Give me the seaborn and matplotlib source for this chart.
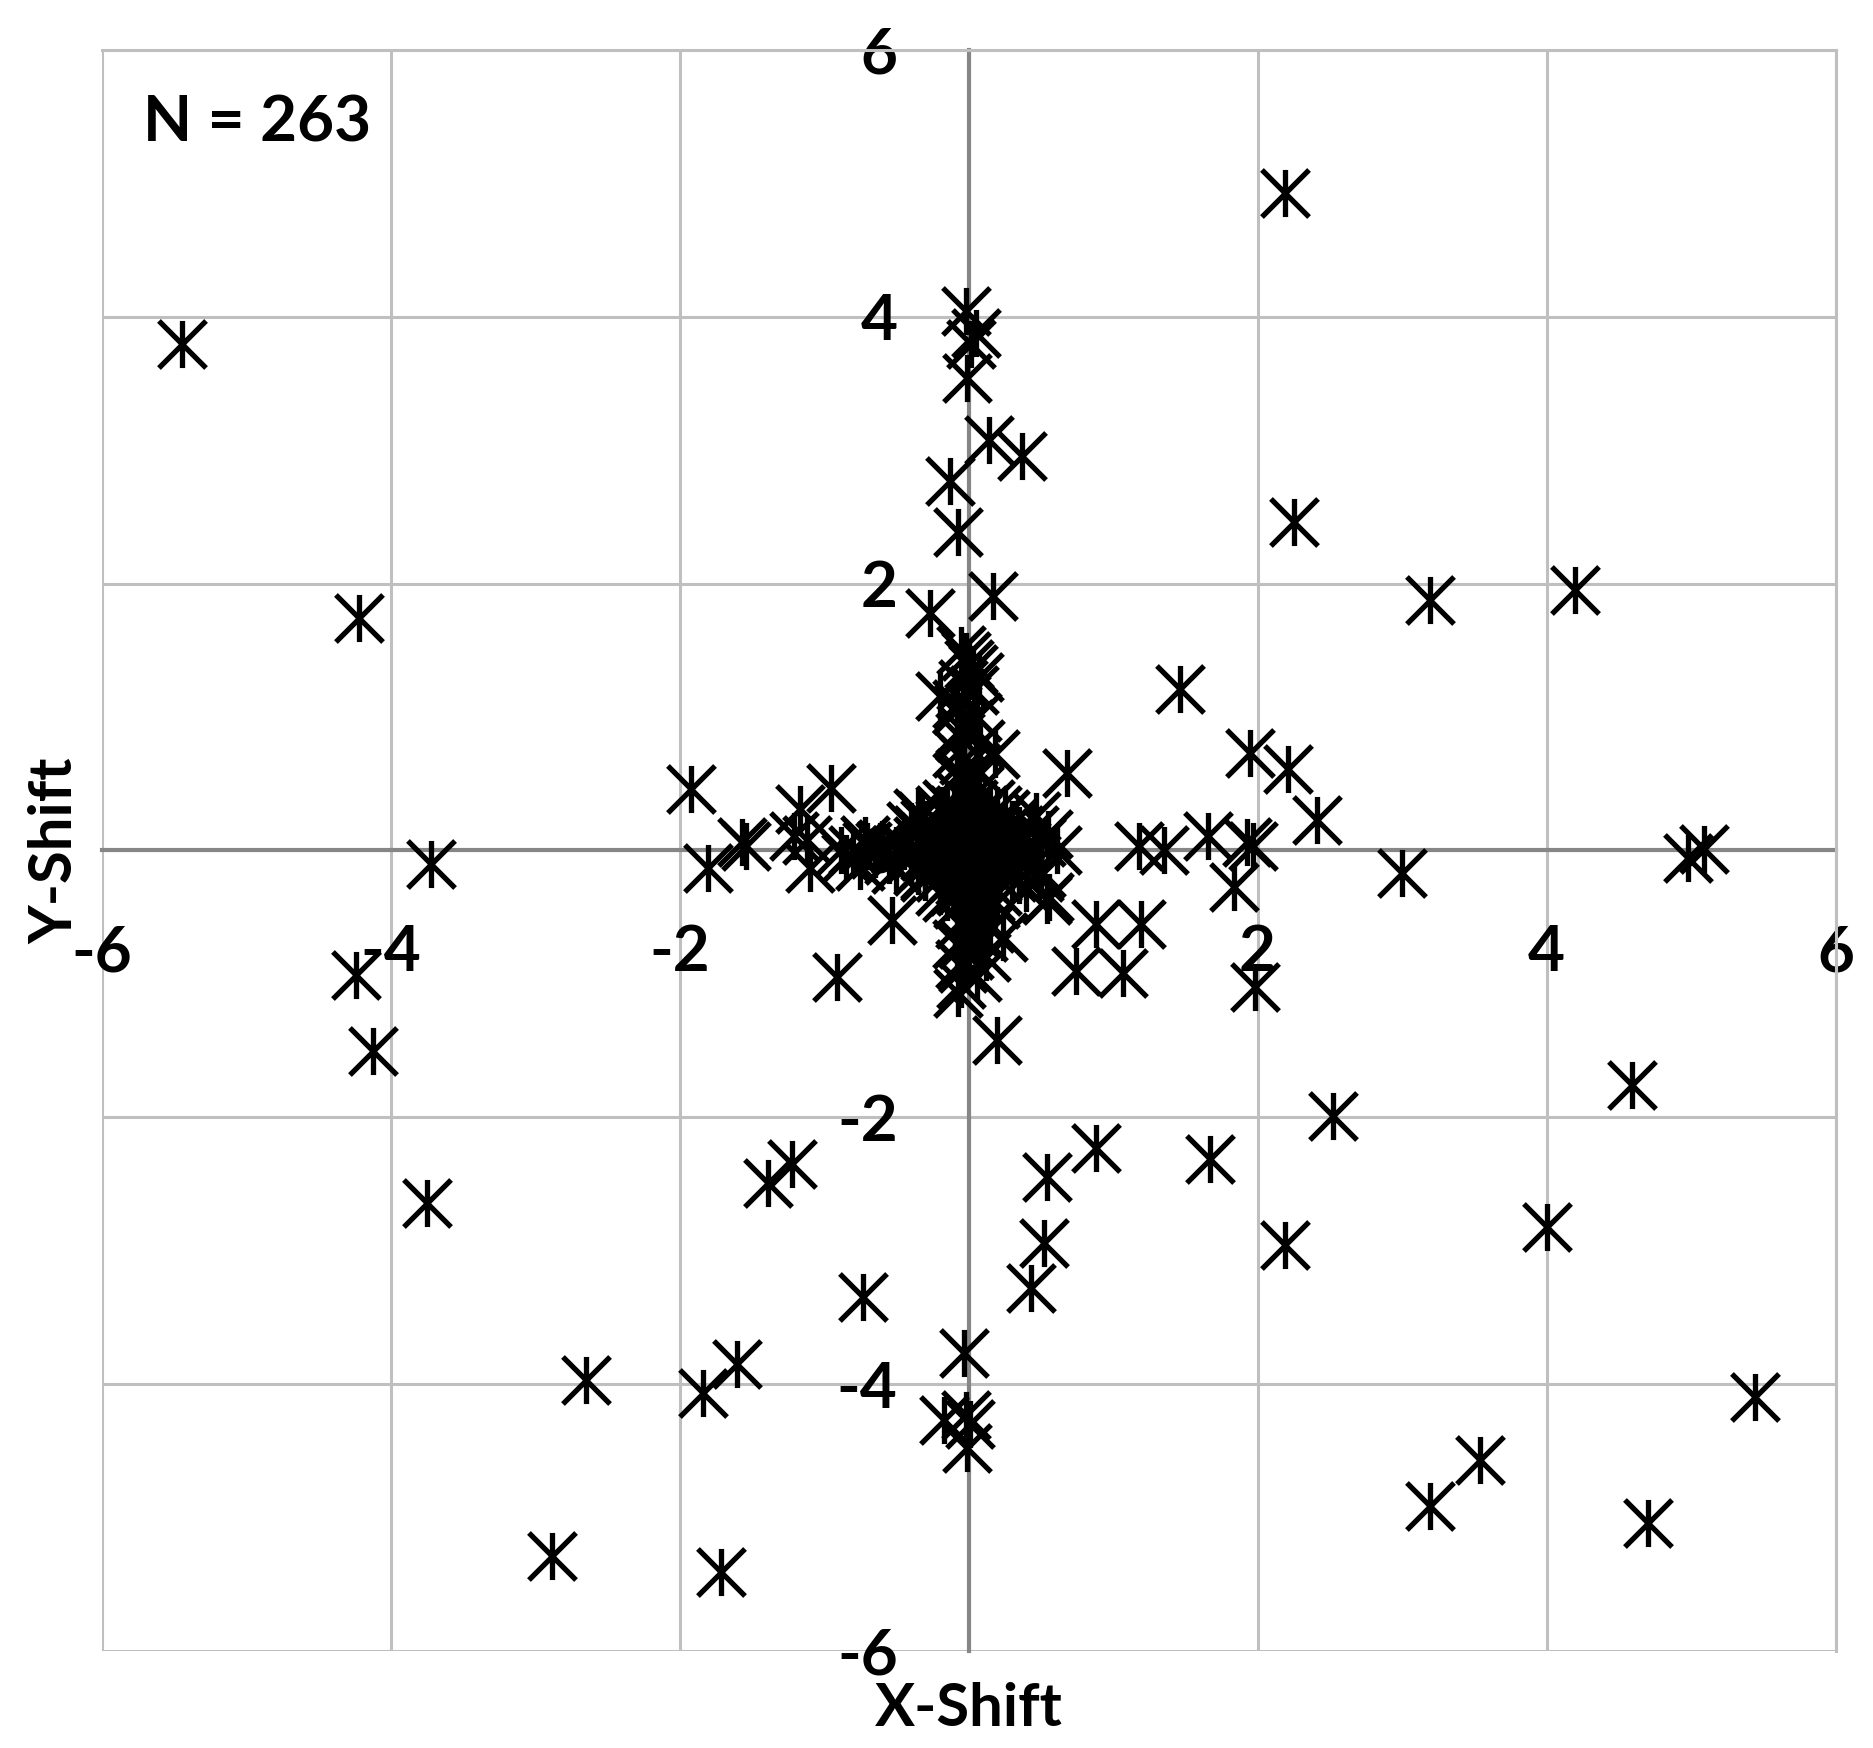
import matplotlib
matplotlib.use('Agg')
import matplotlib.pyplot as plt
from matplotlib.path import Path
import pandas as pd
import seaborn as sns


# shifts, grouped by where they sit
far_points = [
    (-5.44, 3.80), (2.19, 4.93), (-4.22, 1.74), (2.25, 2.46), (3.19, 1.88),
    (4.20, 1.95), (1.46, 1.21), (5.09, 0.01), (4.98, -0.06), (3.00, -0.17),
    (-3.72, -0.10), (-4.24, -0.93), (-4.12, -1.50), (-3.75, -2.64), (4.59, -1.76),
    (2.52, -1.99), (0.88, -2.23), (1.67, -2.31), (2.19, -2.96), (4.00, -2.82),
    (-1.22, -2.35), (-1.39, -2.49), (0.54, -2.45), (0.52, -2.94), (0.43, -3.28),
    (-0.73, -3.35), (-0.03, -3.77), (-2.65, -3.97), (-1.84, -4.07), (-1.60, -3.85),
    (-0.17, -4.27), (-0.02, -4.23), (0.01, -4.30), (-0.01, -4.48), (-2.88, -5.29),
    (-1.71, -5.41), (3.19, -4.91), (3.54, -4.57), (4.70, -5.04), (5.44, -4.10),
]

upper_points = [
    (-0.02, 4.04), (0.05, 3.88), (0.02, 3.80), (-0.01, 3.54), (0.14, 3.08),
    (0.37, 2.96), (-0.13, 2.77), (-0.07, 2.39), (0.17, 1.91), (-0.27, 1.78),
]

right_points = [
    (1.95, 0.73), (2.21, 0.61), (2.41, 0.23), (1.66, 0.11), (1.93, 0.06),
    (1.97, 0.03), (1.84, -0.27), (1.18, 0.03), (1.35, 0.00), (0.68, 0.58),
    (0.88, -0.55), (1.19, -0.55), (0.74, -0.90), (1.07, -0.92), (1.98, -1.02),
    (0.20, -1.42),
]

left_points = [
    (-1.92, 0.46), (-1.80, -0.13), (-1.57, 0.06), (-1.54, 0.03), (-1.17, 0.31),
    (-0.95, 0.47), (-1.21, 0.11), (-1.12, 0.08), (-1.10, -0.13), (-0.72, 0.08),
    (-0.75, -0.12), (-0.61, 0.03), (-0.88, 0.00), (-0.32, 0.26), (-0.53, -0.52),
    (-0.91, -0.95),
]

near_points = [
    (-0.02, 1.46), (0.03, 1.36), (-0.20, 1.16), (-0.08, 1.05), (-0.05, 0.91),
    (0.18, 0.72), (-0.08, 0.73), (-0.06, 0.58), (-0.07, -1.07), (0.56, -0.35),
    (0.49, -0.20), (0.61, 0.00), (0.45, 0.15), (-0.35, 0.28), (0.47, 0.26),
    (0.54, -0.37), (0.24, -0.65), (-0.04, -0.70), (-0.06, -0.85),
]

# dense cross in the middle
arm_points = [
    (0.00, 0.20), (0.05, 0.25), (-0.06, 0.30), (0.03, 0.35), (-0.05, 0.40),
    (0.07, 0.45), (0.00, 0.50), (-0.08, 0.55), (0.05, 0.62), (-0.03, 0.68),
    (0.08, 0.80), (-0.06, 0.85), (0.00, 0.95), (0.06, 1.00), (-0.08, 1.10),
    (0.04, 1.20), (-0.04, 1.25), (0.07, 1.30), (0.00, 1.40), (-0.05, 1.50),
    (0.00, -0.20), (0.05, -0.25), (-0.05, -0.30), (0.07, -0.35), (-0.07, -0.40),
    (0.02, -0.45), (0.08, -0.50), (-0.06, -0.55), (0.03, -0.60), (0.10, -0.65),
    (-0.08, -0.70), (0.00, -0.78), (0.12, -0.80), (-0.04, -0.88), (0.06, -0.95),
    (-0.05, -1.00), (0.15, -0.58), (0.18, -0.40),
    (-0.20, 0.00), (-0.25, 0.05), (-0.30, -0.04), (-0.35, 0.07), (-0.40, -0.06),
    (-0.45, 0.03), (-0.50, 0.00), (-0.55, -0.07), (-0.60, 0.05), (-0.65, -0.03),
    (-0.70, 0.03), (-0.80, 0.00), (-0.85, -0.06), (-0.40, 0.18), (-0.30, -0.18),
    (-0.50, -0.14),
    (0.15, 0.00), (0.20, 0.05), (0.25, -0.05), (0.30, 0.07), (0.35, -0.07),
    (0.40, 0.03), (0.45, -0.10), (0.50, 0.06), (0.30, 0.20), (0.35, -0.22),
    (0.25, 0.27), (0.40, -0.28), (0.55, 0.12), (0.50, -0.17),
]

core_points = [
    (0.0, 0.0), (0.0, 0.0), (0.0, 0.0), (0.0, 0.0), (0.0, 0.0), (0.0, 0.0),
    (0.0, 0.0), (0.0, 0.0), (0.0, 0.0), (0.0, 0.0), (0.0, 0.0), (0.0, 0.0),
    (0.0, 0.0), (0.0, 0.0), (0.0, 0.0), (0.0, 0.0), (0.0, 0.0), (0.0, 0.0),
    (0.0, 0.0), (0.0, 0.0), (0.0, 0.0), (0.0, 0.0), (0.0, 0.0), (0.0, 0.0),
    (0.0, 0.0), (0.0, 0.0), (0.0, 0.0), (0.0, 0.0), (0.0, 0.0), (0.0, 0.0),
    (0.10, 0.00), (-0.10, 0.00), (0.00, 0.10), (0.00, -0.10),
    (0.10, 0.10), (-0.10, 0.10), (0.10, -0.10), (-0.10, -0.10),
    (0.20, 0.00), (-0.20, 0.00), (0.00, 0.20), (0.00, -0.20),
    (0.20, 0.10), (-0.20, 0.10), (0.20, -0.10), (-0.20, -0.10),
    (0.10, 0.20), (-0.10, 0.20), (0.10, -0.20), (-0.10, -0.20),
    (0.20, 0.20), (-0.20, 0.20), (0.20, -0.20), (-0.20, -0.20),
    (0.30, 0.10), (-0.30, 0.10), (0.30, -0.10), (-0.30, -0.10),
    (0.10, 0.30), (-0.10, 0.30), (0.10, -0.30), (-0.10, -0.30),
    (0.30, 0.20), (-0.30, 0.20), (0.30, -0.20), (-0.30, -0.20),
    (0.20, 0.30), (-0.20, 0.30), (0.20, -0.30), (-0.20, -0.30),
    (0.04, 0.06), (-0.06, 0.04), (0.06, -0.04), (-0.04, -0.06),
    (0.14, 0.04), (-0.14, 0.06), (0.04, -0.14), (-0.06, 0.14),
    (0.24, 0.06), (-0.24, -0.04), (0.06, 0.24), (-0.04, -0.24),
    (0.16, 0.16), (-0.16, 0.16), (0.16, -0.16), (-0.16, -0.16),
    (0.35, 0.15), (-0.35, 0.15), (0.35, -0.15), (-0.35, -0.15),
    (0.15, 0.35), (-0.15, 0.35), (0.15, -0.35), (-0.15, -0.35),
]

ticks = [-6, -4, -2, 0, 2, 4, 6]
tick_labels = ['-6', '-4', '-2', '0', '2', '4', '6']
n_label = 'N = 263'

all_points = (far_points + upper_points + right_points + left_points
              + near_points + arm_points + core_points)
df = pd.DataFrame(all_points, columns=['x', 'y'])

# excel style asterisk: an X with a vertical bar through it
star = Path(
    [(-0.5, -0.5), (0.5, 0.5), (-0.5, 0.5), (0.5, -0.5), (0.0, -0.5), (0.0, 0.5)],
    [Path.MOVETO, Path.LINETO, Path.MOVETO, Path.LINETO, Path.MOVETO, Path.LINETO],
)

sns.set_style('white')
plt.rcParams['font.family'] = ['Lato', 'DejaVu Sans']
plt.rcParams['font.weight'] = 'bold'
plt.rcParams['text.color'] = 'black'
plt.rcParams['axes.labelcolor'] = 'black'
plt.rcParams['xtick.color'] = 'black'
plt.rcParams['ytick.color'] = 'black'

fig = plt.figure(figsize=(18.74, 17.48), dpi=100)
ax = fig.add_axes([0.0542, 0.0555, 0.9253, 0.9159])

sns.scatterplot(data=df, x='x', y='y', marker=star, s=1150, color='black',
                edgecolor='black', linewidth=3.8, legend=False, ax=ax, zorder=3)

ax.set_xlim(-6, 6)
ax.set_ylim(-6, 6)
ax.set_xticks(ticks)
ax.set_yticks(ticks)
ax.set_xticklabels(tick_labels)
ax.set_yticklabels(tick_labels)

grid_color = '#bfbfbf'
ax.set_axisbelow(True)
ax.grid(True, color=grid_color, linewidth=2.2)
for line in ax.get_xgridlines() + ax.get_ygridlines():
    line.set_clip_on(False)

for side in ['top', 'right']:
    ax.spines[side].set_color(grid_color)
    ax.spines[side].set_linewidth(2.2)
for side in ['left', 'bottom']:
    ax.spines[side].set_position(('data', 0))
    ax.spines[side].set_color('#868686')
    ax.spines[side].set_linewidth(3)
    ax.spines[side].set_zorder(1)

ax.tick_params(length=0, labelsize=46, labelcolor='black')
ax.tick_params(axis='x', pad=53)
ax.tick_params(axis='y', pad=51)

ax.set_xlabel('X-Shift', fontsize=43, fontweight='bold')
ax.xaxis.set_label_coords(0.5, -0.047)
ax.xaxis.label.set_va('baseline')
ax.set_ylabel('Y-Shift', fontsize=43, fontweight='bold')
ax.yaxis.set_label_coords(-0.017, 0.5)
ax.yaxis.label.set_va('baseline')

ax.text(0.024, 0.943, n_label, transform=ax.transAxes, fontsize=46,
        fontweight='bold', ha='left', va='baseline')

fig.savefig('out.png', dpi=100)
